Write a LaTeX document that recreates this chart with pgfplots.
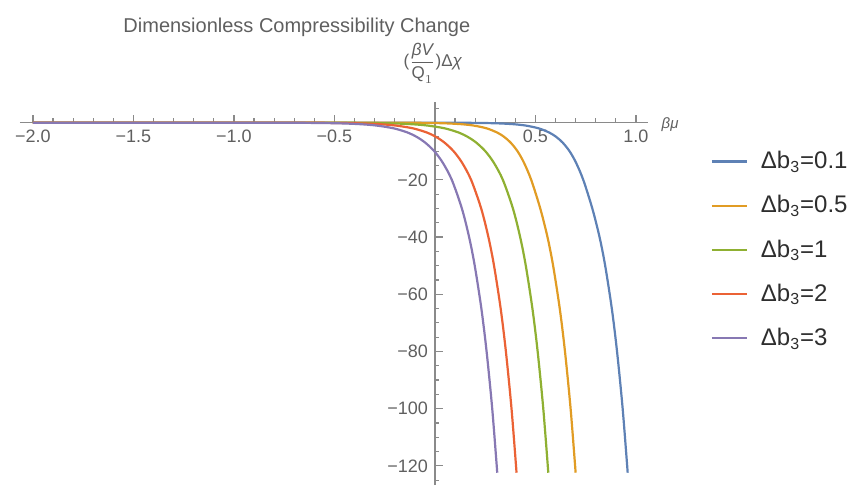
\documentclass[border=0pt]{standalone}
\usepackage{fontspec}
\setmainfont{Liberation Sans}
\usepackage{pgfplots}
\pgfplotsset{compat=1.18}

\definecolor{mblue}{HTML}{5E81B5}
\definecolor{morange}{HTML}{E19C24}
\definecolor{mgreen}{HTML}{8FB032}
\definecolor{mred}{HTML}{EB6235}
\definecolor{mpurple}{HTML}{8778B3}
\definecolor{axgray}{HTML}{8A8A8A}
\definecolor{lblgray}{HTML}{5F5F5F}
\definecolor{legtext}{HTML}{2E2E2E}

\begin{document}
\begin{tikzpicture}
\begin{axis}[
    x=100.5pt, y=1.43pt,
    xmin=-2.065, xmax=1.06,
    ymin=-126.7, ymax=7.3,
    axis lines=middle,
    axis line style={-, draw=axgray, line width=0.7pt},
    clip=false,
    xtick={-2,-1.5,-1,-0.5,0.5,1},
    xticklabels={−2.0,−1.5,−1.0,−0.5,0.5,1.0},
    minor xtick={-1.9,-1.8,-1.7,-1.6,-1.4,-1.3,-1.2,-1.1,-0.9,-0.8,-0.7,-0.6,-0.4,-0.3,-0.2,-0.1,0.1,0.2,0.3,0.4,0.6,0.7,0.8,0.9},
    ytick={-120,-100,-80,-60,-40,-20},
    yticklabels={−120,−100,−80,−60,−40,−20},
    minor ytick={-125,-115,-110,-105,-95,-90,-85,-75,-70,-65,-55,-50,-45,-35,-30,-25,-15,-10,-5,5},
    tick align=inside,
    major tick length=3.8pt,
    minor tick length=2.2pt,
    tick style={draw=axgray, line width=0.6pt},
    tick label style={font=\fontsize{9}{10}\selectfont, text=lblgray},
    legend style={at={(axis cs:1.37,-8.5)}, anchor=north west, draw=none, fill=none,
        font=\fontsize{12}{14}\selectfont, text=legtext, row sep=7.9pt, inner sep=0pt,
        /tikz/every odd column/.append style={column sep=4.5pt}},
    legend cell align=left,
    legend image code/.code={\draw[#1, line width=1.1pt] (0pt,0pt) -- (17.5pt,0pt);},
    every axis plot/.append style={line width=1.1pt, smooth},
]
% Delta b3 = 0.1
\addplot[mblue] coordinates {
  (-2,0) (-1,0) (0,-0.01) (0.166,-0.05) (0.298,-0.2) (0.385,-0.5) (0.451,-1)
  (0.517,-2) (0.570,-3.5) (0.604,-5) (0.636,-7) (0.670,-10) (0.702,-14)
  (0.738,-20) (0.783,-30) (0.819,-40) (0.847,-50) (0.880,-65) (0.906,-80)
  (0.934,-100) (0.959,-122.4)
};
\addlegendentry{Δb\textsubscript{3}=0.1}
% Delta b3 = 0.5
\addplot[morange] coordinates {
  (-2,0) (-1,0) (-0.5,-0.01) (-0.093,-0.05) (0.039,-0.2) (0.126,-0.5) (0.192,-1)
  (0.258,-2) (0.311,-3.5) (0.345,-5) (0.377,-7) (0.411,-10) (0.443,-14)
  (0.479,-20) (0.524,-30) (0.560,-40) (0.588,-50) (0.621,-65) (0.647,-80)
  (0.675,-100) (0.700,-122.4)
};
\addlegendentry{Δb\textsubscript{3}=0.5}
% Delta b3 = 1
\addplot[mgreen] coordinates {
  (-2,0) (-1,0) (-0.6,-0.01) (-0.411,-0.05) (-0.238,-0.2) (-0.124,-0.5) (-0.037,-1)
  (0.050,-2) (0.120,-3.5) (0.164,-5) (0.206,-7) (0.251,-10) (0.293,-14)
  (0.338,-20) (0.388,-30) (0.424,-40) (0.452,-50) (0.485,-65) (0.511,-80)
  (0.539,-100) (0.564,-122.4)
};
\addlegendentry{Δb\textsubscript{3}=1}
% Delta b3 = 2
\addplot[mred] coordinates {
  (-2,0) (-1.2,0) (-0.77,-0.01) (-0.569,-0.05) (-0.396,-0.2) (-0.282,-0.5) (-0.195,-1)
  (-0.108,-2) (-0.038,-3.5) (0.006,-5) (0.048,-7) (0.093,-10) (0.135,-14)
  (0.180,-20) (0.230,-30) (0.266,-40) (0.294,-50) (0.327,-65) (0.353,-80)
  (0.381,-100) (0.406,-122.4)
};
\addlegendentry{Δb\textsubscript{3}=2}
% Delta b3 = 3
\addplot[mpurple] coordinates {
  (-2,0) (-1.3,0) (-0.87,-0.01) (-0.665,-0.05) (-0.492,-0.2) (-0.378,-0.5) (-0.291,-1)
  (-0.204,-2) (-0.134,-3.5) (-0.090,-5) (-0.048,-7) (-0.003,-10) (0.039,-14)
  (0.084,-20) (0.134,-30) (0.170,-40) (0.198,-50) (0.231,-65) (0.257,-80)
  (0.285,-100) (0.310,-122.4)
};
\addlegendentry{Δb\textsubscript{3}=3}

\node[font=\fontsize{10}{12}\selectfont, text=lblgray] at (axis cs:-0.687,33.2)
  {Dimensionless Compressibility Change};
\node[font=\fontsize{8.5}{10}\selectfont, text=lblgray, inner sep=0pt] at (axis cs:-0.01,20.8)
  {($\displaystyle\frac{\mbox{\itshape βV}}{\mbox{Q}_1}$)Δ\textit{χ}};
\node[font=\fontsize{7.5}{9}\selectfont, text=lblgray] at (axis cs:1.17,-0.6) {\itshape βμ};

\coordinate (bbl) at (axis cs:-2.164,-127.6);
\coordinate (btr) at (axis cs:2.09,42.9);
\end{axis}
\pgfresetboundingbox
\path[use as bounding box] (bbl) rectangle (btr);
\end{tikzpicture}
\end{document}
